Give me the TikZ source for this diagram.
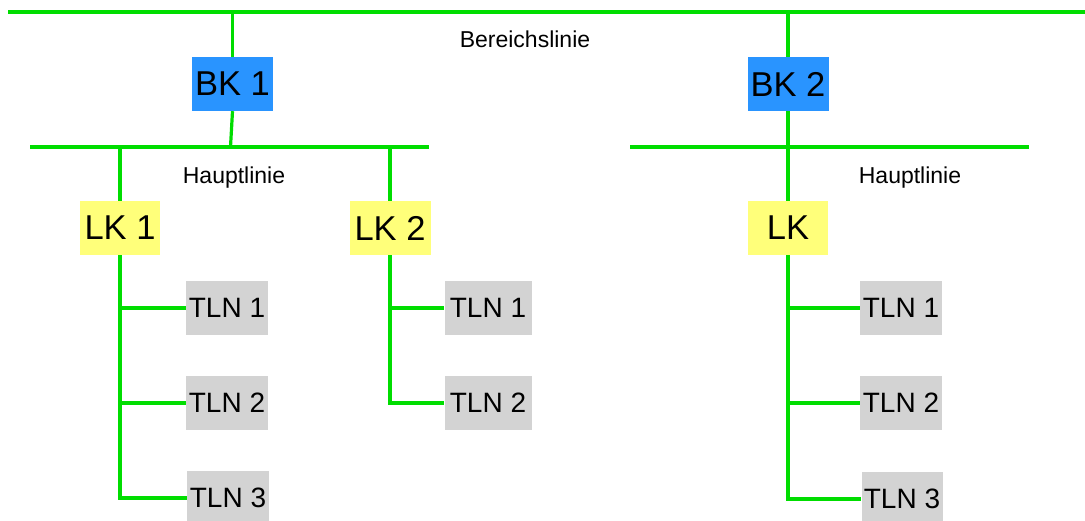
\documentclass[tikz,border=0pt]{standalone}
\usepackage{fontspec}
\setmainfont{Liberation Sans}
\definecolor{busgreen}{RGB}{0,221,0}
\definecolor{bkblue}{RGB}{41,148,255}
\definecolor{lkyellow}{RGB}{255,255,122}
\definecolor{tlngray}{RGB}{211,211,211}
\tikzset{
  bus/.style={draw=busgreen, line width=3.2pt},
  bkbox/.style={fill=bkblue, minimum width=81pt, minimum height=54pt, inner sep=0pt,
    font=\fontsize{34.5}{40}\selectfont},
  lkbox/.style={fill=lkyellow, minimum width=80pt, minimum height=54pt, inner sep=0pt,
    font=\fontsize{34.5}{40}\selectfont},
  tlnbox/.style={fill=tlngray, minimum width=82pt, minimum height=54pt, inner sep=0pt,
    font=\fontsize{28}{33}\selectfont},
  linelabel/.style={anchor=base, inner sep=0pt, font=\fontsize{23}{27}\selectfont}
}
\begin{document}
\begin{tikzpicture}[x=1pt, y=-1pt]
  \useasboundingbox (0,0) rectangle (1085,520);

  % Bus lines
  \coordinate (bl-l) at (8,12);
  \coordinate (bl-r) at (1085,12);
  \coordinate (bl-1) at (232.5,12);
  \coordinate (bl-2) at (788,12);
  \coordinate (hl1-l) at (30,147);
  \coordinate (hl1-r) at (429,147);
  \coordinate (hl1-bk) at (230.5,147);
  \coordinate (hl1-a) at (120,147);
  \coordinate (hl1-b) at (390,147);
  \coordinate (hl2-l) at (630,147);
  \coordinate (hl2-r) at (1029,147);

  % Couplers
  \node[bkbox] (bk1) at (232.5,84) {BK 1};
  \node[bkbox] (bk2) at (788,84) {BK 2};
  \node[lkbox] (lk1) at (120,228) {LK 1};
  \node[lkbox, minimum width=81pt] (lk2) at (390,228) {LK 2};
  \node[lkbox] (lk3) at (788,228) {LK};

  % Participants
  \node[tlnbox] (t11) at (227,308) {TLN 1};
  \node[tlnbox] (t12) at (227,403) {TLN 2};
  \node[tlnbox] (t13) at (228,498) {TLN 3};
  \node[tlnbox, minimum width=87pt] (t21) at (488,308) {TLN 1};
  \node[tlnbox, minimum width=87pt] (t22) at (488,403) {TLN 2};
  \node[tlnbox] (t31) at (901,308) {TLN 1};
  \node[tlnbox] (t32) at (901,403) {TLN 2};
  \node[tlnbox, minimum width=81pt] (t33) at (902,499) {TLN 3};

  % Labels
  \node[linelabel] (lbl-b) at (525,47) {Bereichslinie};
  \node[linelabel] (lbl-h1) at (234,183) {Hauptlinie};
  \node[linelabel] (lbl-h2) at (910,183) {Hauptlinie};

  % Connectors
  \draw[bus] (bl-l) -- (bl-r);
  \draw[bus] (bl-1) -- (bk1.north);
  \draw[bus] (bl-2) -- (bk2.north);
  \draw[bus] (hl1-l) -- (hl1-r);
  \draw[bus] (hl2-l) -- (hl2-r);
  \draw[bus] (bk1.south) -- (hl1-bk);
  \draw[bus] (bk2.south) -- (lk3.north);
  \draw[bus] (hl1-a) -- (lk1.north);
  \draw[bus] (hl1-b) -- (lk2.north);

  \draw[bus] (lk1.south) |- (t13.west);
  \draw[bus] (lk1.south) |- (t11.west);
  \draw[bus] (lk1.south) |- (t12.west);
  \draw[bus] (lk2.south) |- (t22.west);
  \draw[bus] (lk2.south) |- (t21.west);
  \draw[bus] (lk3.south) |- (t33.west);
  \draw[bus] (lk3.south) |- (t31.west);
  \draw[bus] (lk3.south) |- (t32.west);
\end{tikzpicture}
\end{document}
